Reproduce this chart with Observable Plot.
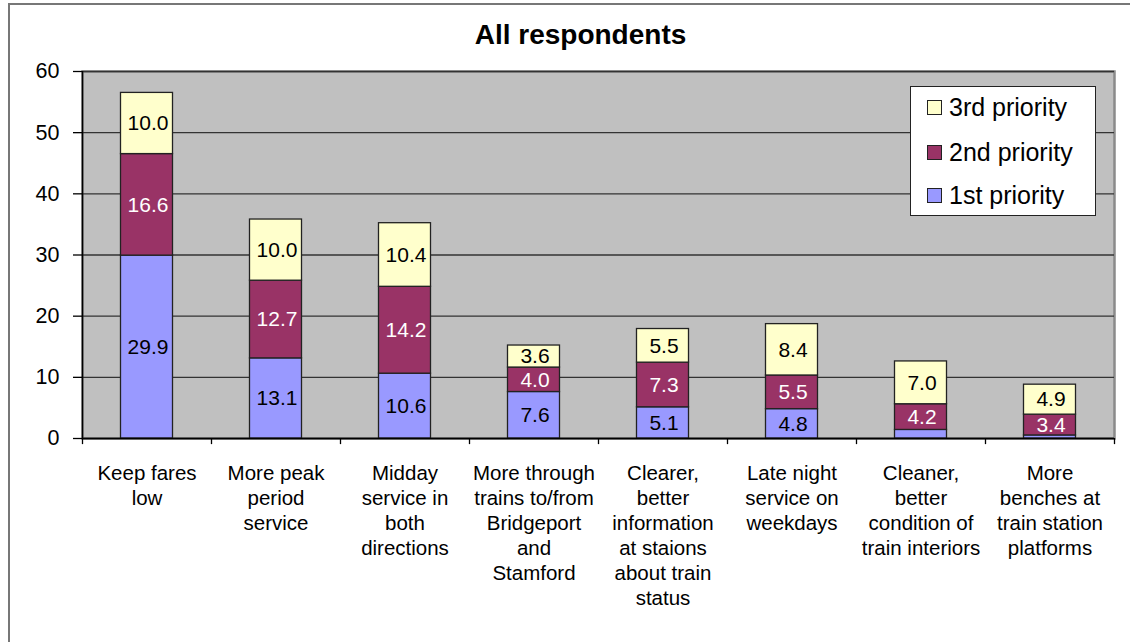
<!DOCTYPE html>
<html>
<head>
<meta charset="utf-8">
<script src="https://cdn.jsdelivr.net/npm/d3@7"></script>
<script src="https://cdn.jsdelivr.net/npm/@observablehq/plot@0.6"></script>
<style>
  html, body { margin: 0; padding: 0; background: #fff; }
  #wrap { position: relative; width: 1130px; height: 642px; overflow: hidden; font-family: "Liberation Sans", Arial, sans-serif; }
  #border { position: absolute; left: 8px; top: 3px; width: 1200px; height: 700px; border-left: 2px solid #777; border-top: 2px solid #777; }
  #chart { position: absolute; left: 0; top: 0; }
  #legend { position: absolute; left: 910px; top: 86px; width: 186px; height: 130px; background: #fff; border: 1.5px solid #222; box-sizing: border-box; }
  .item { position: absolute; left: 16px; height: 26px; display: flex; align-items: center; font-size: 25px; color: #000; white-space: nowrap; }
  .sw { width: 13px; height: 13px; border: 1.5px solid #222; margin-right: 7px; flex: none; }
</style>
</head>
<body>
<div id="wrap">
  <div id="border"></div>
  <div id="chart"></div>
  <div id="legend"></div>
</div>
<script>
const title = "All respondents";
const categories = [
  "Keep fares\nlow",
  "More peak\nperiod\nservice",
  "Midday\nservice in\nboth\ndirections",
  "More through\ntrains to/from\nBridgeport\nand\nStamford",
  "Clearer,\nbetter\ninformation\nat staions\nabout train\nstatus",
  "Late night\nservice on\nweekdays",
  "Cleaner,\nbetter\ncondition of\ntrain interiors",
  "More\nbenches at\ntrain station\nplatforms"
];
const seriesNames = ["1st priority", "2nd priority", "3rd priority"];
const first  = [29.9, 13.1, 10.6, 7.6, 5.1, 4.8, 1.4, 0.5];
const second = [16.6, 12.7, 14.2, 4.0, 7.3, 5.5, 4.2, 3.4];
const third  = [10.0, 10.0, 10.4, 3.6, 5.5, 8.4, 7.0, 4.9];
const showLabel = [
  [true, true, true, true, true, true, false, false],
  [true, true, true, true, true, true, true, true],
  [true, true, true, true, true, true, true, true]
];
const colors = ["#9999FF", "#993366", "#FFFFCC"];
const labelColors = ["#000", "#fff", "#000"];
const yTicks = [0, 10, 20, 30, 40, 50, 60];

const seriesValues = [first, second, third];
const rows = [];
categories.forEach((c, i) => {
  let base = 0;
  seriesValues.forEach((vals, s) => {
    const v = vals[i];
    rows.push({cat: c, series: seriesNames[s], s, y1: base, y2: base + v, mid: base + v / 2, value: v, show: showLabel[s][i]});
    base += v;
  });
});

const W = 1130, H = 642;
const mL = 82, mR = 16, mT = 71, mB = 204;
const step = (W - mL - mR) / categories.length;
const barW = 52;
const inset = (step - barW) / 2;
const font = "'Liberation Sans', Arial, sans-serif";

const chart = Plot.plot({
  width: W, height: H,
  marginLeft: mL, marginRight: mR, marginTop: mT, marginBottom: mB,
  style: {fontFamily: font, background: "transparent", overflow: "visible"},
  x: {domain: categories, padding: 0},
  y: {domain: [0, 60]},
  color: {domain: seriesNames, range: colors},
  marks: [
    Plot.frame({fill: "#C0C0C0", stroke: "#8a8a8a", strokeWidth: 2.5}),
    Plot.gridY(yTicks, {stroke: "#333", strokeOpacity: 1, strokeWidth: 1.3}),
    Plot.rectY(rows, {x: "cat", y1: "y1", y2: "y2", fill: "series", stroke: "#222", strokeWidth: 1.3, insetLeft: inset, insetRight: inset}),
    Plot.text(rows.filter(d => d.show), {x: "cat", y: "mid", text: d => d.value.toFixed(1), fill: d => labelColors[d.s], fontSize: 21, dx: 1}),
    Plot.ruleY([0], {stroke: "#000", strokeWidth: 1.5}),
    Plot.ruleX([categories[0]], {x: d => d, y1: 0, y2: 60, dx: -step / 2, stroke: "#000", strokeWidth: 1.5}),
    Plot.axisY(yTicks, {tickSize: 9, tickPadding: 14, fontSize: 21.5, stroke: "#000", strokeWidth: 1.3, fill: "#000", label: null}),
    Plot.ruleX(categories, {x: d => d, y1: 0, y2: -1, dx: -step / 2, stroke: "#000", strokeWidth: 1.3}),
    Plot.ruleX([categories[categories.length - 1]], {x: d => d, y1: 0, y2: -1, dx: step / 2, stroke: "#000", strokeWidth: 1.3}),
    Plot.axisX({tickSize: 0, tickPadding: 24, fontSize: 20.5, lineHeight: 25 / 20.5, fill: "#000", label: null, tickFormat: d => d}),
    Plot.text([title], {frameAnchor: "top", dy: -47, dx: -18, fontSize: 28, fontWeight: "bold", fill: "#000"})
  ]
});
document.getElementById("chart").appendChild(chart);

const legend = document.getElementById("legend");
const order = [2, 1, 0];
const tops = [7, 52, 95];
order.forEach((s, k) => {
  const it = document.createElement("div");
  it.className = "item";
  it.style.top = tops[k] + "px";
  const sw = document.createElement("div");
  sw.className = "sw";
  sw.style.background = colors[s];
  const tx = document.createElement("span");
  tx.textContent = seriesNames[s];
  it.appendChild(sw);
  it.appendChild(tx);
  legend.appendChild(it);
});
</script>
</body>
</html>
